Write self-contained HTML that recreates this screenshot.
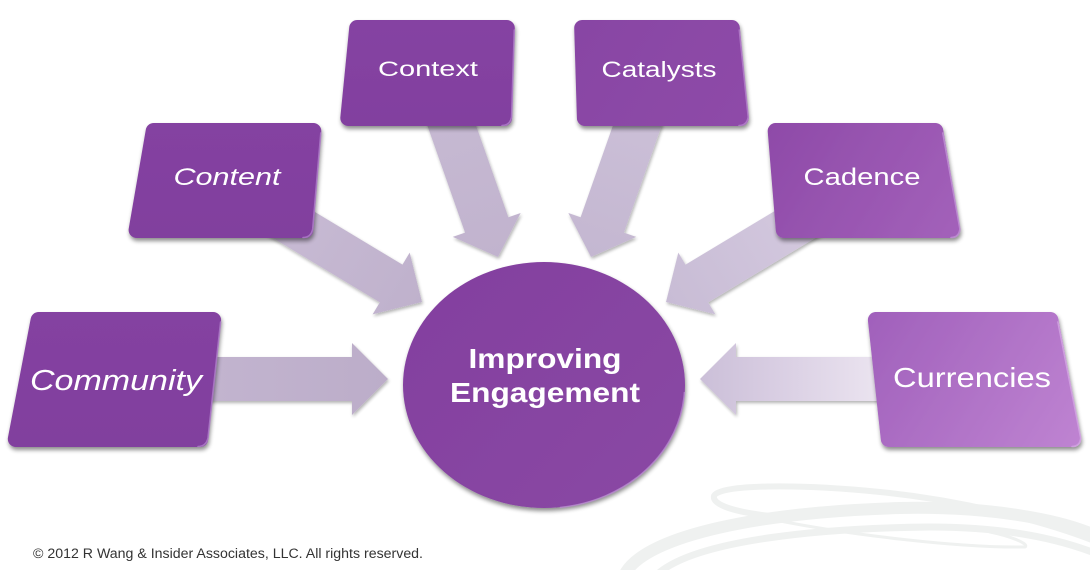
<!DOCTYPE html>
<html>
<head>
<meta charset="utf-8">
<style>
html,body{margin:0;padding:0;background:#fff;}
body{width:1090px;height:570px;overflow:hidden;}
svg{display:block;}
text{font-family:"Liberation Sans",sans-serif;}
</style>
</head>
<body>
<svg width="1090" height="570" viewBox="0 0 1090 570" xmlns="http://www.w3.org/2000/svg">
<defs>
  <filter id="sh" x="-20%" y="-20%" width="140%" height="150%">
    <feGaussianBlur in="SourceAlpha" stdDeviation="2.2"/>
    <feOffset dx="1" dy="3" result="b"/>
    <feComponentTransfer><feFuncA type="linear" slope="0.45"/></feComponentTransfer>
    <feMerge><feMergeNode/><feMergeNode in="SourceGraphic"/></feMerge>
  </filter>
  <filter id="ash" x="-20%" y="-30%" width="140%" height="160%">
    <feGaussianBlur in="SourceAlpha" stdDeviation="1.5"/>
    <feOffset dx="1" dy="2" result="b"/>
    <feComponentTransfer><feFuncA type="linear" slope="0.3"/></feComponentTransfer>
    <feMerge><feMergeNode/><feMergeNode in="SourceGraphic"/></feMerge>
  </filter>
  <linearGradient id="gA1" x1="0" y1="0" x2="1" y2="0"><stop offset="0" stop-color="#c2b4cf"/><stop offset="1" stop-color="#bcadc9"/></linearGradient>
  <linearGradient id="gA2" x1="0" y1="0" x2="1" y2="0"><stop offset="0" stop-color="#c8bbd4"/><stop offset="1" stop-color="#bfb1cc"/></linearGradient>
  <linearGradient id="gA3" x1="0" y1="0" x2="1" y2="0"><stop offset="0" stop-color="#c6b9d2"/><stop offset="1" stop-color="#c1b3ce"/></linearGradient>
  <linearGradient id="gA4" x1="0" y1="0" x2="1" y2="0"><stop offset="0" stop-color="#cbbfd7"/><stop offset="1" stop-color="#c4b7d1"/></linearGradient>
  <linearGradient id="gA5" x1="0" y1="0" x2="1" y2="0"><stop offset="0" stop-color="#d4c9df"/><stop offset="1" stop-color="#c8bcd5"/></linearGradient>
  <linearGradient id="gA6" x1="0" y1="0" x2="1" y2="0"><stop offset="0" stop-color="#ebe4f0"/><stop offset="0.6" stop-color="#d8cde2"/><stop offset="1" stop-color="#cbbfd8"/></linearGradient>

  <linearGradient id="gB1" gradientUnits="userSpaceOnUse" x1="0" y1="312" x2="0" y2="447"><stop offset="0" stop-color="#8442a1"/><stop offset="1" stop-color="#813f9e"/></linearGradient>
  <linearGradient id="gB2" gradientUnits="userSpaceOnUse" x1="0" y1="123" x2="0" y2="238"><stop offset="0" stop-color="#8442a1"/><stop offset="1" stop-color="#813f9e"/></linearGradient>
  <linearGradient id="gB3" gradientUnits="userSpaceOnUse" x1="0" y1="20" x2="0" y2="126"><stop offset="0" stop-color="#8543a2"/><stop offset="1" stop-color="#82409f"/></linearGradient>
  <linearGradient id="gB4" gradientUnits="userSpaceOnUse" x1="573" y1="20" x2="747" y2="126"><stop offset="0" stop-color="#8845a4"/><stop offset="1" stop-color="#8e4ba8"/></linearGradient>
  <linearGradient id="gB5" gradientUnits="userSpaceOnUse" x1="768" y1="122" x2="958" y2="238"><stop offset="0" stop-color="#8e4aa8"/><stop offset="1" stop-color="#a361ba"/></linearGradient>
  <linearGradient id="gB6" gradientUnits="userSpaceOnUse" x1="867" y1="313" x2="1082" y2="448"><stop offset="0" stop-color="#a060bb"/><stop offset="1" stop-color="#bf84d2"/></linearGradient>
  <linearGradient id="gC" gradientUnits="userSpaceOnUse" x1="420" y1="262" x2="680" y2="508"><stop offset="0" stop-color="#83409f"/><stop offset="1" stop-color="#8a48a4"/></linearGradient>
</defs>

<!-- swoosh logo -->
<g fill="none" stroke="#eff1f0" stroke-linecap="round">
  <path d="M 626 572 C 650 535 760 512 900 508 C 990 506 1060 520 1092 534" stroke-width="12"/>
  <path d="M 660 572 C 700 540 820 528 930 527 C 1010 527 1060 540 1092 552" stroke-width="7"/>
  <path d="M 770 516 C 735 512 712 505 714 496 C 718 484 800 484 880 492 C 960 500 1040 520 1092 540" stroke-width="6"/>
  <path d="M 775 520 C 850 535 960 548 1025 547 C 1030 544 1010 536 990 532" stroke-width="3"/>
</g>

<!-- arrows -->
<g filter="url(#ash)">
  <path transform="translate(388,379)" d="M0 0 L-36 -36 L-36 -22 L-180 -22 L-180 22 L-36 22 L-36 36 Z" fill="url(#gA1)"/>
  <path transform="translate(700,379) rotate(180)" d="M0 0 L-36 -36 L-36 -22 L-180 -22 L-180 22 L-36 22 L-36 36 Z" fill="url(#gA6)"/>
  <path transform="translate(422,302) rotate(31)" d="M0 0 L-36 -36 L-36 -22 L-175 -22 L-175 22 L-36 22 L-36 36 Z" fill="url(#gA2)"/>
  <path transform="translate(666,302) rotate(149)" d="M0 0 L-36 -36 L-36 -22 L-175 -22 L-175 22 L-36 22 L-36 36 Z" fill="url(#gA5)"/>
  <path transform="translate(498,257) rotate(70.6)" d="M0 0 L-34 -36 L-34 -23 L-150 -23 L-150 23 L-34 23 L-34 36 Z" fill="url(#gA3)"/>
  <path transform="translate(591,257) rotate(109.4)" d="M0 0 L-34 -36 L-34 -23 L-150 -23 L-150 23 L-34 23 L-34 36 Z" fill="url(#gA4)"/>
</g>

<!-- boxes -->
<g stroke-linejoin="round" stroke-width="16" filter="url(#sh)">
  <polygon points="38.6,320 213.1,320 200.2,439 15.8,439" fill="url(#gB1)" stroke="url(#gB1)"/>
  <polygon points="153.7,131 313.3,131 305.2,230 136.6,230" fill="url(#gB2)" stroke="url(#gB2)"/>
  <polygon points="357.2,28 506.8,28 504.1,118 348.3,118" fill="url(#gB3)" stroke="url(#gB3)"/>
  <polygon points="582.2,28 731.8,28 740.7,118 584.9,118" fill="url(#gB4)" stroke="url(#gB4)"/>
  <polygon points="775.7,131 935.3,131 952.4,230 783.8,230" fill="url(#gB5)" stroke="url(#gB5)"/>
  <polygon points="875.9,320 1050.4,320 1073.2,439 888.8,439" fill="url(#gB6)" stroke="url(#gB6)"/>
</g>
<!-- box rim highlights (on the actual right/bottom edges) -->
<g fill="none" stroke-linecap="round" stroke-width="1.6" opacity="0.8">
  <path d="M 220.6 322 L 208 438 Q 206 446.5 198 446.5" stroke="#b07fca"/>
  <path d="M 320.8 133 L 312.7 229 Q 311 237.5 303 237.5" stroke="#b07fca"/>
  <path d="M 514.3 30 L 511.6 117 Q 510 125.5 502 125.5" stroke="#b07fca"/>
  <path d="M 739.3 30 L 748.2 117 Q 747 125.5 739 125.5" stroke="#b583cc"/>
  <path d="M 942.8 133 L 959.9 229 Q 959 237.5 951 237.5" stroke="#c293d6"/>
  <path d="M 1057.9 322 L 1080.7 438 Q 1080 446.5 1072 446.5" stroke="#d3a6e2"/>
</g>

<!-- center circle -->
<ellipse cx="544" cy="385" rx="141" ry="123" fill="url(#gC)" filter="url(#sh)"/>
<path d="M 684.5 392 A 141 123 0 0 1 560 507.5" fill="none" stroke="#b88ad0" stroke-width="1.6" opacity="0.8"/>

<!-- labels -->
<g fill="#ffffff">
  <text x="116" y="390" font-size="29" font-style="italic" text-anchor="middle" textLength="172" lengthAdjust="spacingAndGlyphs">Community</text>
  <text x="227" y="185" font-size="24" font-style="italic" text-anchor="middle" textLength="107" lengthAdjust="spacingAndGlyphs">Content</text>
  <text x="428" y="76" font-size="21" text-anchor="middle" textLength="100" lengthAdjust="spacingAndGlyphs">Context</text>
  <text x="659" y="77" font-size="22" text-anchor="middle" textLength="115" lengthAdjust="spacingAndGlyphs">Catalysts</text>
  <text x="862" y="185" font-size="24" text-anchor="middle" textLength="117" lengthAdjust="spacingAndGlyphs">Cadence</text>
  <text x="972" y="387" font-size="28" text-anchor="middle" textLength="158" lengthAdjust="spacingAndGlyphs">Currencies</text>
  <text x="545" y="368" font-size="28" font-weight="bold" text-anchor="middle" textLength="153" lengthAdjust="spacingAndGlyphs">Improving</text>
  <text x="545" y="402" font-size="28" font-weight="bold" text-anchor="middle" textLength="190" lengthAdjust="spacingAndGlyphs">Engagement</text>
</g>

<text x="33" y="558" font-size="13.5" fill="#333333" textLength="390" lengthAdjust="spacingAndGlyphs">© 2012 R Wang &amp; Insider Associates, LLC.  All rights reserved.</text>
</svg>
</body>
</html>
